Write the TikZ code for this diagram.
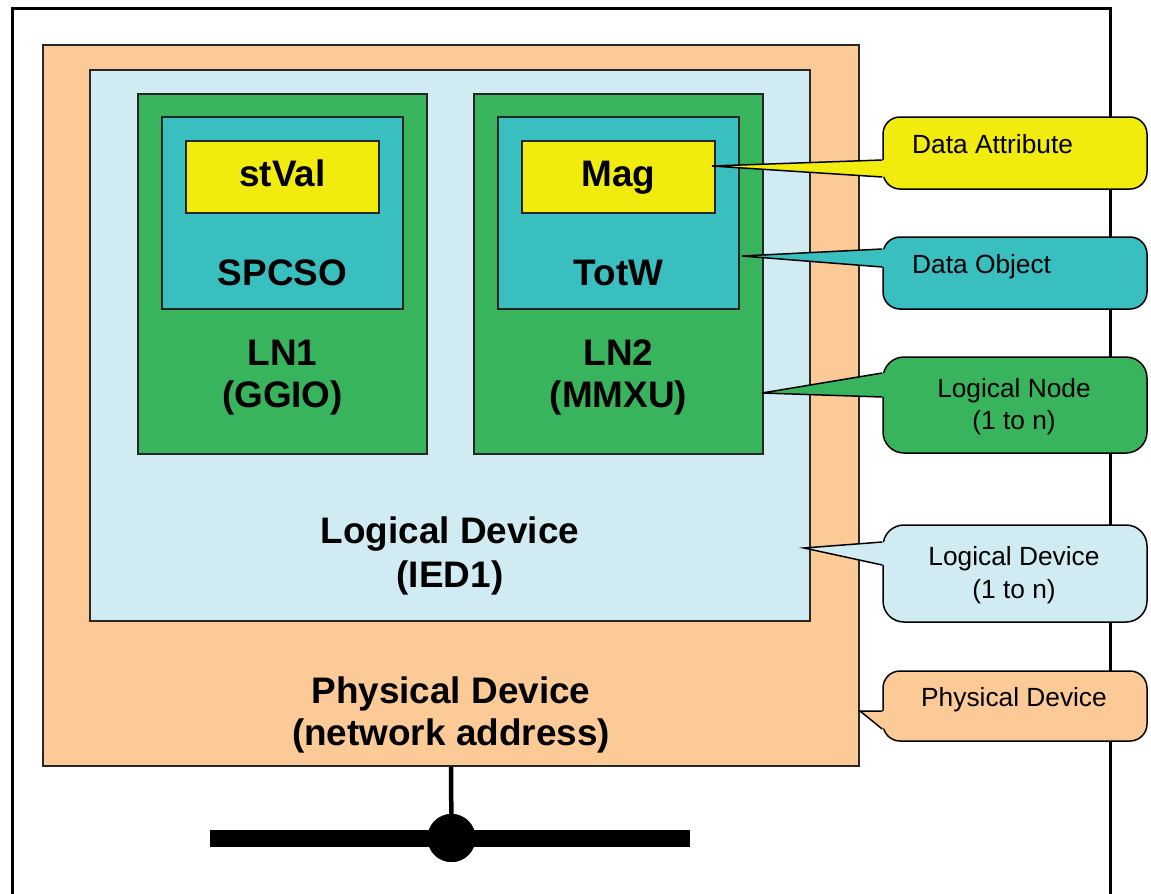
\documentclass[tikz,border=0pt]{standalone}
\usepackage{fontspec}
\setmainfont{Liberation Sans}
\definecolor{peach}{RGB}{252,202,150}
\definecolor{ldblue}{RGB}{208,236,242}
\definecolor{lngreen}{RGB}{56,180,92}
\definecolor{doteal}{RGB}{58,191,193}
\definecolor{dayellow}{RGB}{242,235,14}
\begin{document}
\begin{tikzpicture}[x=1pt,y=-1pt,
  box/.style={draw=black!85, line width=1.6pt, inner sep=0pt},
  big/.style={font=\bfseries\fontsize{36.9}{42}\selectfont, align=center, inner sep=0pt},
  callbox/.style={draw=black, line width=1.5pt, inner sep=0pt, minimum width=264pt},
  calltext/.style={font=\fontsize{26.3}{32}\selectfont, inner sep=0pt, align=center},
  pointer/.style={draw=black, line width=1.5pt},
]
\useasboundingbox (0,0) rectangle (1151,894);

% outer frame
\draw[line width=3pt] (12,894) -- (12,8) -- (1110,8) -- (1110,894);

% nested boxes
\node[box, fill=peach, minimum width=816pt, minimum height=721pt] (pd) at (451,405.5) {};
\node[box, fill=ldblue, minimum width=720pt, minimum height=551pt] (ld) at (450,345.5) {};
\node[box, fill=lngreen, minimum width=289pt, minimum height=360pt] (ln1) at (282.5,274) {};
\node[box, fill=lngreen, minimum width=289pt, minimum height=360pt] (ln2) at (618.5,274) {};
\node[box, fill=doteal, minimum width=241pt, minimum height=192pt] (do1) at (282.5,213) {};
\node[box, fill=doteal, minimum width=241pt, minimum height=192pt] (do2) at (618.5,213) {};
\node[box, fill=dayellow, minimum width=193pt, minimum height=72pt] (da1) at (282.5,177) {};
\node[box, fill=dayellow, minimum width=193pt, minimum height=72pt] (da2) at (618.5,177) {};

% labels
\node[big, anchor=base] (da1t) at (282.5,186.5) {stVal};
\node[big, anchor=base] (da2t) at (618.5,186.5) {Mag};
\node[big, anchor=base] (do1t) at (282.5,285) {SPCSO};
\node[big, anchor=base] (do2t) at (618.5,285) {TotW};
\node[big] (ln1t) at (282.5,377.8) {LN1\\(GGIO)};
\node[big] (ln2t) at (618.5,377.8) {LN2\\(MMXU)};
\node[big] (ldt) at (450,555.8) {Logical Device\\[2pt](IED1)};
\node[big] (pdt) at (451,714.8) {Physical Device\\(network address)};

% network
\coordinate (busL) at (210,838);
\coordinate (busR) at (690,838);
\node[circle, fill=black, minimum size=48pt, inner sep=0pt] (hub) at (451.5,838) {};
\draw[line width=4.5pt] (pd.south) -- (hub.center);
\draw[line width=17pt] (busL) -- (busR);
\node[circle, fill=black, minimum size=48pt, inner sep=0pt] at (hub) {};

% callouts
% Data Attribute
\node[callbox, fill=dayellow, minimum height=72pt, rounded corners=17pt] (cda) at (1015,153) {};
\coordinate (tda) at (712,166);
\fill[dayellow] (tda) -- (884.5,160) -- (884.5,177) -- cycle;
\draw[pointer] (cda.west |- 0,160) -- (tda) -- (cda.west |- 0,177);
\node[calltext, anchor=base west] (cdat) at (912,153.5) {Data Attribute};

% Data Object
\node[callbox, fill=doteal, minimum height=72pt, rounded corners=17pt] (cdo) at (1015,273) {};
\coordinate (tdo) at (742,256);
\fill[doteal] (tdo) -- (884.5,249) -- (884.5,267) -- cycle;
\draw[pointer] (cdo.west |- 0,249) -- (tdo) -- (cdo.west |- 0,267);
\node[calltext, anchor=base west] (cdot) at (912,273.3) {Data Object};

% Logical Node
\node[callbox, fill=lngreen, minimum height=96pt, rounded corners=21pt] (cln) at (1015,405) {};
\coordinate (tln) at (762,393);
\fill[lngreen] (tln) -- (884.5,373) -- (884.5,397) -- cycle;
\draw[pointer] (cln.west |- 0,373) -- (tln) -- (cln.west |- 0,397);
\node[calltext] (clnt) at (1014,406.5) {Logical Node\\(1 to n)};

% Logical Device
\node[callbox, fill=ldblue, minimum height=97pt, rounded corners=21pt] (cld) at (1015,573.5) {};
\coordinate (tld) at (804,548);
\fill[ldblue] (tld) -- (884.5,542) -- (884.5,565) -- cycle;
\draw[pointer] (cld.west |- 0,542) -- (tld) -- (cld.west |- 0,565);
\node[calltext] (cldt) at (1014,575.5) {Logical Device\\[1pt](1 to n)};

% Physical Device
\node[callbox, fill=peach, minimum height=70pt, rounded corners=17pt] (cpd) at (1015,706) {};
\coordinate (tpd) at (860,711);
\fill[peach] (tpd) -- (884.5,711) -- (884.5,729) -- cycle;
\draw[pointer] (cpd.west |- 0,711) -- (tpd) -- (cpd.west |- 0,729);
\node[calltext, anchor=base] (cpdt) at (1014,706.7) {Physical Device};
\end{tikzpicture}
\end{document}
